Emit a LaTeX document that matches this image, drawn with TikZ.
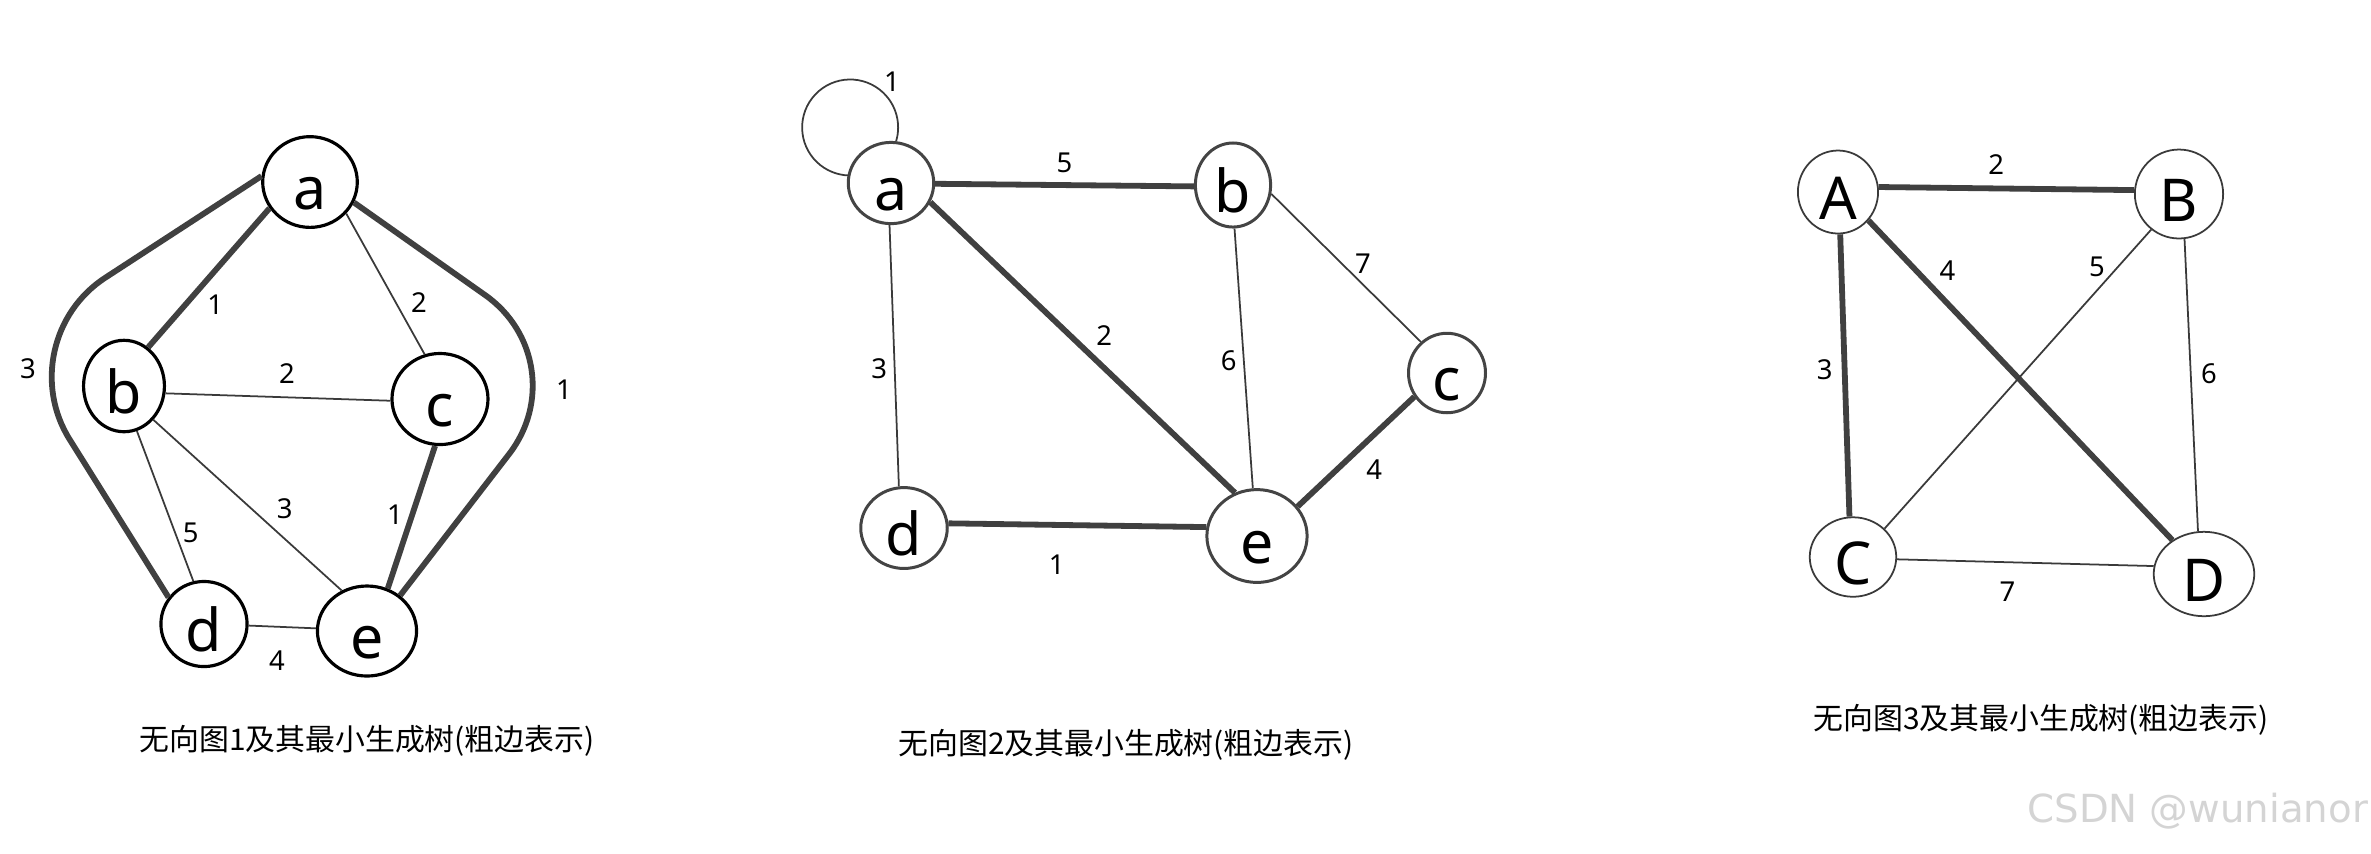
\documentclass[tikz,border=0pt]{standalone}
\usepackage{fontspec}
\setmainfont{Noto Sans}
\newfontfamily\cjkfont{Noto Sans CJK SC}
\newfontfamily\markfont{DejaVu Sans}
\usepackage{xcolor}
\definecolor{edgegray}{RGB}{64,64,64}
\definecolor{thingray}{RGB}{58,58,58}
\definecolor{ringgray}{RGB}{68,68,68}
\definecolor{markgray}{RGB}{212,212,212}
\usetikzlibrary{shapes.geometric,positioning}
\tikzset{
  vtx/.style={ellipse,fill=white,inner sep=0pt,
    text height=15.6pt,text depth=0pt,
    font=\fontsize{16.8}{20}\selectfont},
  vtx_one/.style={vtx,draw=black,line width=0.9pt},
  vtx_two/.style={vtx,draw=ringgray,line width=0.85pt},
  vtx_three/.style={vtx,draw=thingray,line width=0.5pt},
  mst_edge/.style={draw=edgegray,line width=1.65pt},
  thin_edge/.style={draw=thingray,line width=0.5pt},
  bend_round/.style={rounded corners=33pt},
  wt/.style={inner sep=0pt,font=\fontsize{7.8}{9}\selectfont},
  caption_txt/.style={font=\cjkfont\fontsize{8.5}{10}\selectfont},
}

\begin{document}
\begin{tikzpicture}[x=0.01cm,y=-0.01cm]
  \useasboundingbox (0,0) rectangle (2371,853);

  % graph 1
  \node[vtx_one,minimum width=26.9pt,minimum height=25.8pt] (a1) at (310,182) {a};
  \node[vtx_one,minimum width=23.0pt,minimum height=26.0pt] (b1) at (124,386) {b};
  \node[vtx_one,minimum width=27.3pt,minimum height=25.9pt] (c1) at (440,399) {c};
  \node[vtx_one,minimum width=24.5pt,minimum height=24.2pt] (d1) at (204,624) {d};
  \node[vtx_one,minimum width=28.2pt,minimum height=25.6pt] (e1) at (367,631) {e};
  \coordinate (cl1) at (8,341);
  \coordinate (cr1) at (580,362);

  \draw[mst_edge] (a1.-147) -- node[wt,pos=.69,right=5.3pt] (w1ab) {1} (b1.58);
  \draw[thin_edge] (a1.-41) -- node[wt,pos=.63,right=4.2pt] (w1ac) {2} (c1.109);
  \draw[thin_edge] (b1.-10) -- node[wt,pos=.54,above=3.8pt] (w1bc) {2} (c1.-178);
  \draw[thin_edge] (b1.-74) -- node[wt,pos=.68,right=1.9pt] (w1bd) {5} (d1.104);
  \draw[thin_edge] (b1.-49) -- node[wt,pos=.62,above right=2.4pt] (w1be) {3} (e1.122);
  \draw[mst_edge] (c1.-96) -- node[wt,pos=.48,left=1.9pt] (w1ce) {1} (e1.64);
  \draw[thin_edge] (d1.-2) -- node[wt,pos=.42,below=6.6pt] (w1de) {4} (e1.177);
  \draw[mst_edge,bend_round] (a1.173) -- (cl1)
    node[wt,below right,xshift=2.6pt,yshift=-4.2pt] (w1ad) {3} -- (d1.143);
  \draw[mst_edge,bend_round] (a1.-25) -- (cr1)
    node[wt,below left,xshift=-1.5pt,yshift=-4.3pt] (w1ae) {1} -- (e1.47);

  % graph 2
  \node[vtx_two,minimum width=24.3pt,minimum height=23.1pt] (a2) at (891,183) {a};
  \node[vtx_two,minimum width=21.4pt,minimum height=23.9pt] (b2) at (1233,185) {b};
  \node[vtx_two,minimum width=21.9pt,minimum height=22.6pt] (c2) at (1447,373) {c};
  \node[vtx_two,minimum width=24.6pt,minimum height=23.0pt] (d2) at (904,528) {d};
  \node[vtx_two,minimum width=28.5pt,minimum height=26.4pt] (e2) at (1257,536) {e};

  \draw[thin_edge] (a2.83) arc[start angle=16.6,end angle=-46.5,radius=48]
    node[wt,above right] (w2aa) {1}
    arc[start angle=-46.5,end angle=-268,radius=48];
  \draw[mst_edge] (a2.-1) -- node[wt,pos=.5,above=2.6pt] (w2ab) {5} (b2.-178);
  \draw[mst_edge] (a2.-26) -- node[wt,pos=.52,above right=1.9pt] (w2ae) {2} (e2.117);
  \draw[thin_edge] (a2.-92) -- node[wt,pos=.55,left=1.9pt] (w2ad) {3} (d2.97);
  \draw[thin_edge] (b2.-88) -- node[wt,pos=.51,left=1.8pt] (w2be) {6} (e2.95);
  \draw[thin_edge] (b2.-13) -- node[wt,pos=.55,above right=0.3pt] (w2bc) {7} (c2.130);
  \draw[mst_edge] (c2.-144) -- node[wt,pos=.49,below right=2.5pt] (w2ce) {4} (e2.36);
  \draw[mst_edge] (d2.6) -- node[wt,pos=.42,below=7.7pt] (w2de) {1} (e2.170);

  % graph 3
  \node[vtx_three,minimum width=22.8pt,minimum height=23.6pt] (A3) at (1838,192) {A};
  \node[vtx_three,minimum width=25.1pt,minimum height=25.3pt] (B3) at (2179,194) {B};
  \node[vtx_three,minimum width=24.6pt,minimum height=22.6pt] (C3) at (1853,557) {C};
  \node[vtx_three,minimum width=28.6pt,minimum height=24.0pt] (D3) at (2204,574) {D};

  \draw[mst_edge] (A3.7) -- node[wt,pos=.46,above=3.2pt] (w3ab) {2} (B3.175);
  \draw[mst_edge] (A3.-87) -- node[wt,pos=.48,left=2.6pt] (w3ac) {3} (C3.95);
  \draw[mst_edge] (A3.-43) -- node[wt,pos=.21,above right=1.8pt] (w3ad) {4} (D3.133);
  \draw[thin_edge] (B3.-128) -- node[wt,pos=.165,above left=0.6pt] (w3bc) {5} (C3.42);
  \draw[thin_edge] (B3.-83) -- node[wt,pos=.46,right=2.7pt] (w3bd) {6} (D3.98);
  \draw[thin_edge] (C3.-3) -- node[wt,pos=.43,below=5.3pt] (w3cd) {7} (D3.171);

  % captions
  \node[caption_txt] (cap1) at (367,741) {无向图1及其最小生成树(粗边表示)};
  \node[caption_txt] (cap2) at (1126,745) {无向图2及其最小生成树(粗边表示)};
  \node[caption_txt] (cap3) at (2041,720) {无向图3及其最小生成树(粗边表示)};
  \node[font=\markfont\fontsize{11}{13}\selectfont,text=markgray,anchor=west]
    (mark) at (2015,811) {CSDN @wunianor};

\end{tikzpicture}
\end{document}
